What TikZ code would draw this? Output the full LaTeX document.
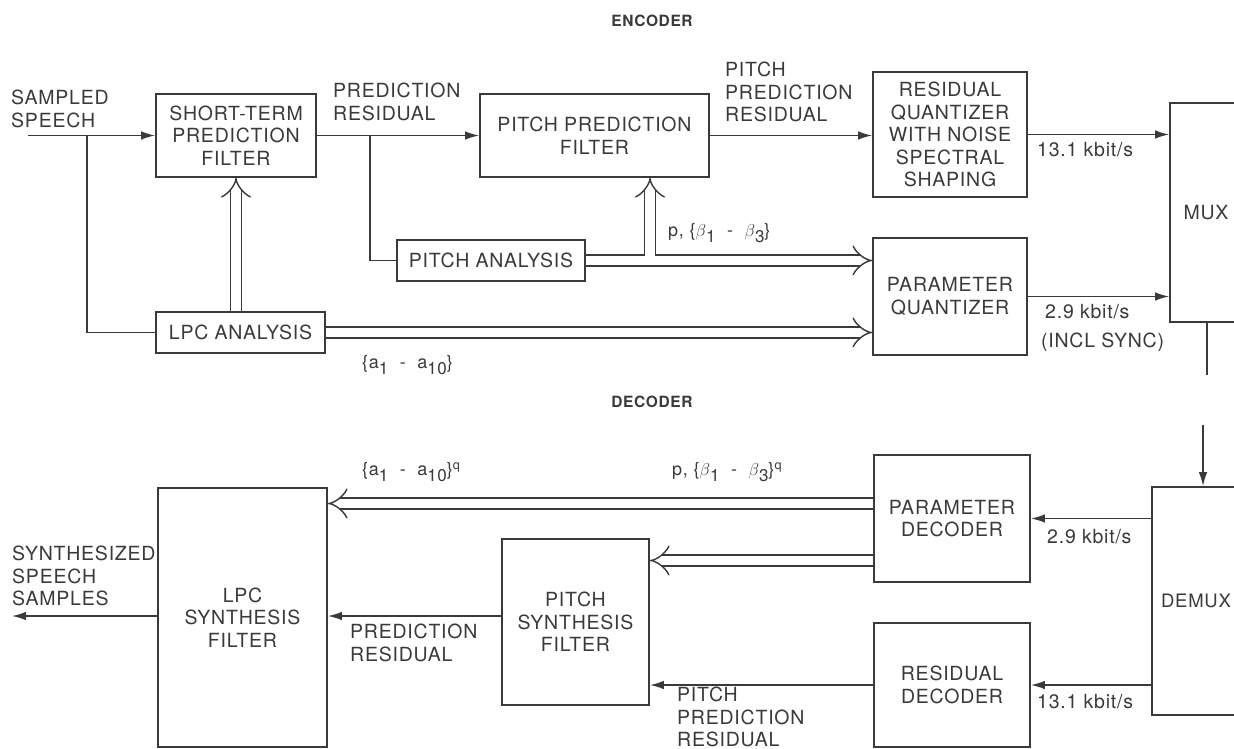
\documentclass[tikz,border=0pt]{standalone}
\usepackage{fontspec}
\setmainfont[LetterSpace=4]{TeX Gyre Heros}
\usetikzlibrary{arrows.meta,calc}
\definecolor{ink}{HTML}{3A3A3A}
% lowered index digits for the coefficient sets
\newcommand{\lowidx}[1]{\raisebox{-0.35em}{\fontsize{17}{17}\selectfont#1}}

\begin{document}
\begin{tikzpicture}[x=1pt,y=-1pt,
  every node/.style={text=ink, font=\fontsize{19.5}{22.5}\selectfont},
  block/.style={draw=ink, line width=1.6pt, align=center, inner sep=0pt},
  wire/.style={draw=ink, line width=1.6pt},
  sig/.style={wire, -{Latex[length=14pt,width=8.5pt]}},
  bus/.style={draw=ink, line width=1.4pt, double, double distance=9.4pt, -{Implies}},
  tag/.style={align=left, anchor=west, inner sep=0pt},
  param/.style={anchor=west, inner sep=0pt, font=\fontsize{18}{18}\selectfont},
  title/.style={font=\bfseries\fontsize{15.5}{15.5}\selectfont}]

\useasboundingbox[fill=white] (0,0) rectangle (1234,749);

% encoder blocks
\node[block, minimum width=160pt, minimum height=83pt] (stf) at (236,135.5) {SHORT-TERM\\PREDICTION\\FILTER};
\node[block, minimum width=229pt, minimum height=83pt] (ppf) at (594.5,135.5) {PITCH PREDICTION\\FILTER};
\node[block, minimum width=154pt, minimum height=125pt] (rq) at (950,134.5) {RESIDUAL\\QUANTIZER\\WITH NOISE\\SPECTRAL\\SHAPING};
\node[block, minimum width=72pt, minimum height=219pt] (mux) at (1206,212.5) {MUX};
\node[block, minimum width=188pt, minimum height=41pt] (pa) at (491,260.5) {PITCH ANALYSIS};
\node[block, minimum width=154pt, minimum height=117pt] (pq) at (950,296.5) {PARAMETER\\QUANTIZER};
\node[block, minimum width=169pt, minimum height=41pt] (lpc) at (240.5,332.5) {LPC ANALYSIS};

% decoder blocks
\node[block, minimum width=169pt, minimum height=259pt] (lsf) at (242.5,617.5) {LPC\\SYNTHESIS\\FILTER};
\node[block, minimum width=147pt, minimum height=166pt] (psf) at (575.5,622) {PITCH\\SYNTHESIS\\FILTER};
\node[block, minimum width=156pt, minimum height=127pt] (pd) at (952,518.5) {PARAMETER\\DECODER};
\node[block, minimum width=156pt, minimum height=124pt] (rd) at (952,685) {RESIDUAL\\DECODER};
\node[block, minimum width=88pt, minimum height=228pt, font=\fontsize{18.5}{22.5}\selectfont] (demux) at (1196,601) {DEMUX};

% encoder signal paths
\coordinate (in) at (28,135.5);
\coordinate (tapA) at (87,135.5);
\coordinate (tapB) at (370,135.5);
\coordinate (tapC) at (650,260.5);
\draw[sig] (in) -- (stf.west);
\draw[wire] (tapA) |- (lpc.west);
\draw[sig] (stf.east) -- (ppf.west);
\draw[wire] (tapB) |- (pa.west);
\draw[sig] (ppf.east) -- (ppf.east -| rq.west);
\draw[sig] (rq.east) -- (rq.east -| mux.west);
\draw[sig] (pq.east) -- (pq.east -| mux.west);
\draw[bus] (stf.south |- lpc.north) -- (stf.south);
\draw[bus] (lpc.east) -- (lpc.east -| pq.west);
\draw[bus] (pa.east) -- (pa.east -| pq.west);
\draw[bus] ($(tapC)+(0,-4.7)$) -- (tapC |- ppf.south);

% channel
\coordinate (chout) at (1207,375);
\coordinate (chin) at (1203,425);
\draw[wire] (chout |- mux.south) -- (chout);
\draw[sig] (chin) -- (chin |- demux.north);

% decoder signal paths
\coordinate (pdA) at ($(pd.west)+(0,-15)$);
\coordinate (pdB) at ($(pd.west)+(0,42)$);
\coordinate (psfo) at ($(psf.west)+(0,-6)$);
\coordinate (out) at (12,616);
\draw[sig] (pd.east -| demux.west) -- (pd.east);
\draw[sig] (rd.east -| demux.west) -- (rd.east);
\draw[sig] (rd.west) -- (rd.west -| psf.east);
\draw[sig] (psfo) -- (psfo -| lsf.east);
\draw[sig] (lsf.west |- out) -- (out);
\draw[bus] (pdA) -- (pdA -| lsf.east);
\draw[bus] (pdB) -- (pdB -| psf.east);

% labels
\node[title] (enc) at (652,21) {ENCODER};
\node[title] (dec) at (652,402) {DECODER};
\node[tag] (lin) at (11,109) {SAMPLED\\SPEECH};
\node[tag] (lres) at (333,102) {PREDICTION\\RESIDUAL};
\node[tag] (lpres) at (725,92) {PITCH\\PREDICTION\\RESIDUAL};
\node[tag] (lrq) at (1037,150) {13.1 kbit/s};
\node[tag] (lpq) at (1045,312) {2.9 kbit/s};
\node[tag] (lsync) at (1041,342) {(INCL SYNC)};
\node[param] (lbeta) at (668,233) {p, \{$\beta$\lowidx{1}~~-~~$\beta$\lowidx{3}\}};
\node[param] (lalpha) at (362,365) {\{a\lowidx{1}~~-~~a\lowidx{10}\}};
\node[param] (lalphaq) at (362,472) {\{a\lowidx{1}~~-~~a\lowidx{10}\}\textsuperscript{q}};
\node[param] (lbetaq) at (672,472) {p, \{$\beta$\lowidx{1}~~-~~$\beta$\lowidx{3}\}\textsuperscript{q}};
\node[tag] (lout) at (12,576) {SYNTHESIZED\\SPEECH\\SAMPLES};
\node[tag] (lres2) at (350,643) {PREDICTION\\RESIDUAL};
\node[tag] (lpres2) at (677,717) {PITCH\\PREDICTION\\RESIDUAL};
\node[tag] (lpd) at (1047,537) {2.9 kbit/s};
\node[tag] (lrd) at (1037,702) {13.1 kbit/s};
\end{tikzpicture}
\end{document}
